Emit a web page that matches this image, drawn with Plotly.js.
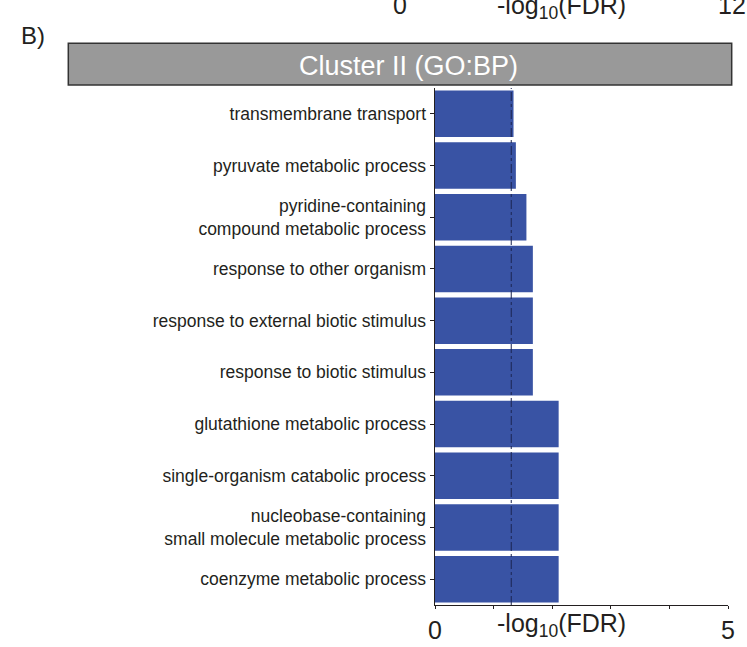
<!DOCTYPE html>
<html>
<head>
<meta charset="utf-8">
<script src="https://cdn.plot.ly/plotly-3.0.1.min.js"></script>
<style>
  html, body { margin: 0; padding: 0; background: #ffffff; }
  #chart { width: 747px; height: 647px; }
</style>
</head>
<body>
<div id="chart"></div>
<script>
// GO:BP enrichment terms for cluster II, listed top to bottom
const terms = [
  "transmembrane transport",
  "pyruvate metabolic process",
  "pyridine-containing<br>compound metabolic process",
  "response to other organism",
  "response to external biotic stimulus",
  "response to biotic stimulus",
  "glutathione metabolic process",
  "single-organism catabolic process",
  "nucleobase-containing<br>small molecule metabolic process",
  "coenzyme metabolic process"
];

// -log10(FDR) for each term
const negLogFdr = [1.34, 1.38, 1.56, 1.67, 1.67, 1.67, 2.11, 2.11, 2.11, 2.11];

// significance cut-off, FDR = 0.05
const fdrCutoff = 0.05;
const cutoffLine = -Math.log10(fdrCutoff);

const xTickVals = [0, 1, 2, 3, 4, 5];
const xTickText = ["0", "", "", "", "", "5"];
const panelTitle = "Cluster II (GO:BP)";
const panelLetter = "B)";
const axisLabel = "-log<sub>10</sub>(FDR)";
// labels of the panel above, partly off the page
const upperTickText = ["0", "12"];

const W = 747, H = 647;
const M = { l: 435, r: 19, t: 88, b: 42 };
const plotW = W - M.l - M.r, plotH = H - M.t - M.b;
const px = x => (x - M.l) / plotW;
const py = y => (H - M.b - y) / plotH;

const labelFont = "Liberation Sans, Arial, sans-serif";
const bigFont = { family: labelFont, size: 25, color: "#231f20" };

const bars = {
  type: "bar",
  orientation: "h",
  y: terms,
  x: negLogFdr,
  marker: { color: "#3953a4", line: { width: 0 } },
  hoverinfo: "x+y"
};

const layout = {
  width: W,
  height: H,
  margin: M,
  paper_bgcolor: "#ffffff",
  plot_bgcolor: "#ffffff",
  showlegend: false,
  bargap: 0.1,
  xaxis: {
    range: [0, 5],
    tickvals: xTickVals,
    ticktext: xTickText,
    ticks: "outside",
    ticklen: 3,
    tickwidth: 1,
    tickcolor: "#231f20",
    tickfont: bigFont,
    ticklabelstandoff: 0,
    showgrid: false,
    zeroline: false,
    showline: true,
    linecolor: "#231f20",
    linewidth: 1.2,
    fixedrange: true
  },
  yaxis: {
    type: "category",
    categoryorder: "array",
    categoryarray: terms,
    autorange: "reversed",
    ticks: "outside",
    ticklen: 4,
    tickwidth: 1,
    tickcolor: "#231f20",
    tickfont: { family: labelFont, size: 17.5, color: "#231f20" },
    ticklabelstandoff: 0,
    showgrid: false,
    zeroline: false,
    showline: true,
    linecolor: "#231f20",
    linewidth: 1.5,
    fixedrange: true
  },
  shapes: [
    {
      type: "rect",
      xref: "paper", yref: "paper",
      x0: px(68.3), x1: px(731.7), y0: py(85), y1: py(43.3),
      fillcolor: "#999999",
      line: { color: "#333333", width: 1.5 },
      layer: "above"
    },
    {
      type: "line",
      xref: "x", yref: "paper",
      x0: cutoffLine, x1: cutoffLine, y0: 0, y1: 1,
      line: { color: "#1b2450", width: 1, dash: "dashdot" },
      layer: "above"
    }
  ],
  annotations: [
    {
      text: panelTitle, xref: "paper", yref: "paper",
      x: px(408), y: py(66), xanchor: "center", yanchor: "middle",
      showarrow: false,
      font: { family: labelFont, size: 27, color: "#ffffff" }
    },
    {
      text: panelLetter, xref: "paper", yref: "paper",
      x: px(33), y: py(36), xanchor: "center", yanchor: "middle",
      showarrow: false,
      font: { family: labelFont, size: 24, color: "#231f20" }
    },
    {
      text: axisLabel, xref: "paper", yref: "paper",
      x: px(561), y: py(625), xanchor: "center", yanchor: "middle",
      showarrow: false, font: bigFont
    },
    {
      text: upperTickText[0], xref: "paper", yref: "paper",
      x: px(400), y: py(5), xanchor: "center", yanchor: "middle",
      showarrow: false, font: bigFont
    },
    {
      text: axisLabel, xref: "paper", yref: "paper",
      x: px(561), y: py(7), xanchor: "center", yanchor: "middle",
      showarrow: false, font: bigFont
    },
    {
      text: upperTickText[1], xref: "paper", yref: "paper",
      x: px(716), y: py(5), xanchor: "left", yanchor: "middle",
      showarrow: false, font: bigFont
    }
  ]
};

Plotly.newPlot("chart", [bars], layout, { staticPlot: true, displayModeBar: false });
</script>
</body>
</html>
